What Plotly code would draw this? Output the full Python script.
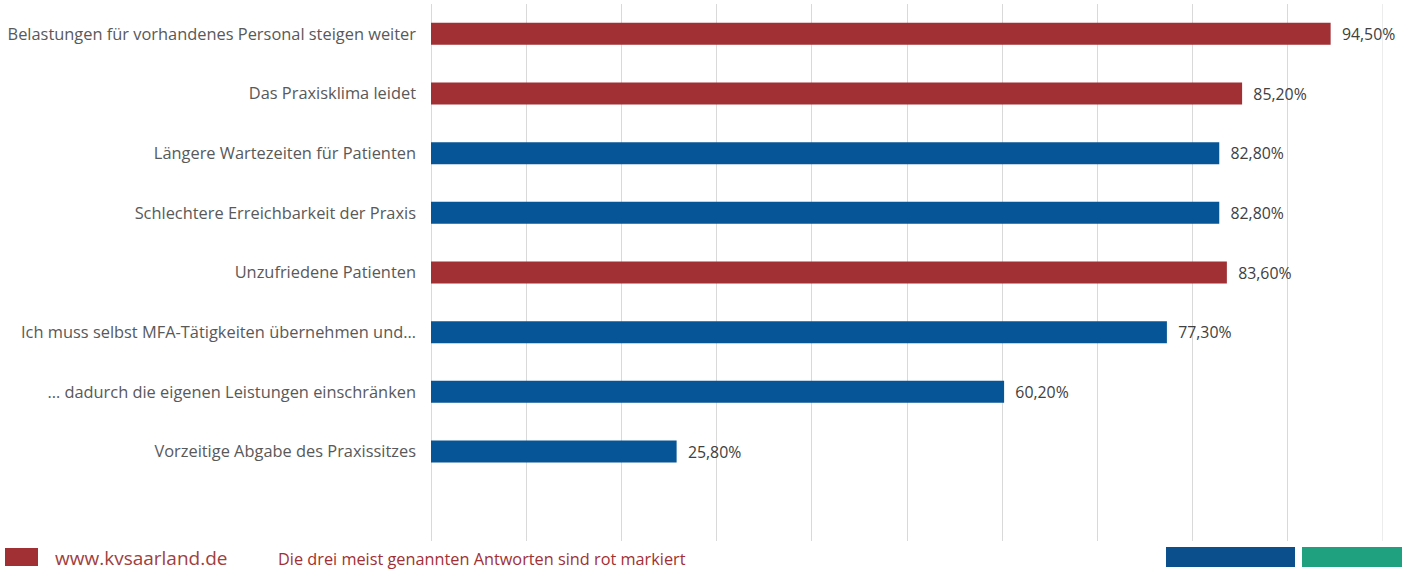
import plotly.graph_objects as go

categories = [
    "Belastungen für vorhandenes Personal steigen weiter",
    "Das Praxisklima leidet",
    "Längere Wartezeiten für Patienten",
    "Schlechtere Erreichbarkeit der Praxis",
    "Unzufriedene Patienten",
    "Ich muss selbst MFA-Tätigkeiten übernehmen und…",
    "… dadurch die eigenen Leistungen einschränken",
    "Vorzeitige Abgabe des Praxissitzes",
]
values = [94.5, 85.2, 82.8, 82.8, 83.6, 77.3, 60.2, 25.8]
top_three = [True, True, False, False, True, False, False, False]

RED = "#A03034"
BLUE = "#065596"
GREEN = "#1FA07F"
GRID = "#D9D9D9"
FONT = "Open Sans, sans-serif"
W, H = 1413, 572
ML, MR, MT, MB = 431, 30, 4, 31
PW, PH = W - ML - MR, H - MT - MB

def px(x):
    return (x - ML) / PW

def py(y):
    return (H - MB - y) / PH

labels = ["  " + f"{v:.2f}%".replace(".", ",") for v in values]
colors = [RED if t else BLUE for t in top_three]

fig = go.Figure(go.Bar(
    x=values,
    y=list(range(len(categories))),
    orientation="h",
    width=0.37,
    marker=dict(color=colors, line=dict(width=0)),
    text=labels,
    textposition="outside",
    textfont=dict(family=FONT, size=16.5, color="#404040"),
    cliponaxis=False,
    hoverinfo="skip",
))

fig.update_layout(
    width=W, height=H,
    margin=dict(l=ML, r=MR, t=MT, b=MB),
    paper_bgcolor="white", plot_bgcolor="white",
    showlegend=False,
    font=dict(family=FONT),
)
fig.update_xaxes(
    range=[0, 100], dtick=10, showticklabels=False,
    showgrid=True, gridcolor=GRID, gridwidth=1,
    zeroline=True, zerolinecolor=GRID, zerolinewidth=1,
    showline=False,
)
fig.update_yaxes(
    range=[8.5, -0.5],
    tickmode="array",
    tickvals=list(range(len(categories))),
    ticktext=categories,
    tickfont=dict(family=FONT, size=16.4, color="#595959"),
    ticklabelstandoff=14,
    showgrid=False, zeroline=False, showline=False,
)

# gridline at the 100 % edge of the value axis
fig.add_shape(type="line", xref="x", yref="paper", x0=100, x1=100, y0=0, y1=1,
              line=dict(color=GRID, width=1), layer="below")

# Footer: logo block, site address, note and colour bars
fig.add_shape(type="rect", xref="paper", yref="paper",
              x0=px(5), x1=px(38), y0=py(566), y1=py(548),
              fillcolor=RED, line=dict(width=0))
fig.add_shape(type="rect", xref="paper", yref="paper",
              x0=px(1166), x1=px(1295), y0=py(567), y1=py(547),
              fillcolor="#0B4F8C", line=dict(width=0))
fig.add_shape(type="rect", xref="paper", yref="paper",
              x0=px(1302), x1=px(1402), y0=py(567), y1=py(547),
              fillcolor=GREEN, line=dict(width=0))
fig.add_annotation(xref="paper", yref="paper", x=px(53), y=py(558),
                   xanchor="left", yanchor="middle", showarrow=False,
                   text="www.kvsaarland.de",
                   font=dict(family=FONT, size=19, color="#A04040"))
fig.add_annotation(xref="paper", yref="paper", x=px(276), y=py(559),
                   xanchor="left", yanchor="middle", showarrow=False,
                   text="Die drei meist genannten Antworten sind rot markiert",
                   font=dict(family=FONT, size=16.3, color=RED))

fig.write_html("out.html")
